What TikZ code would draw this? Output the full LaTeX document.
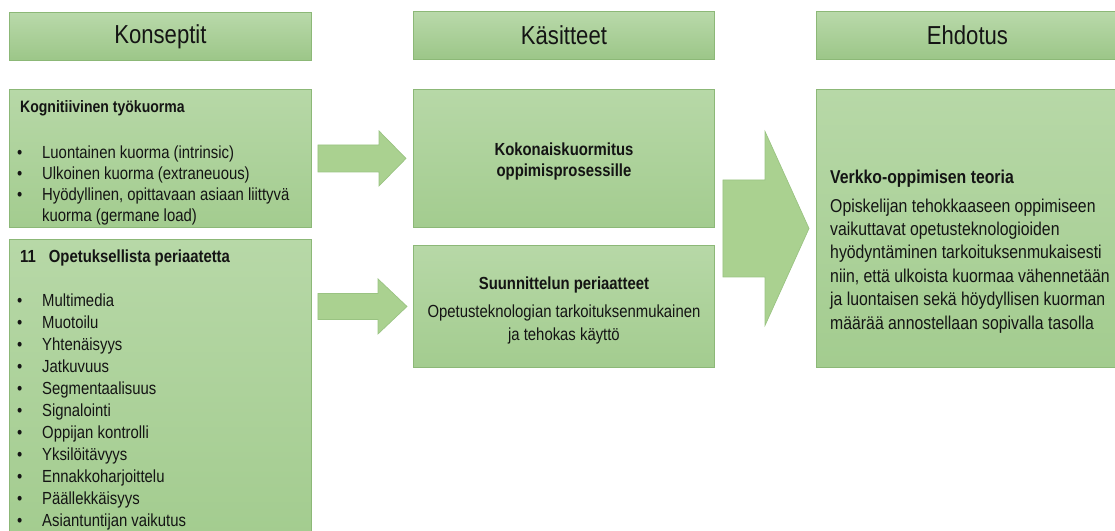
\documentclass[tikz,border=0pt]{standalone}
\usepackage{fontspec}
\setmainfont[FakeStretch=0.85]{Liberation Sans}
\usetikzlibrary{calc}
\definecolor{boxtop}{HTML}{B7D8A7}
\definecolor{boxbot}{HTML}{A3CC8F}
\definecolor{headtop}{HTML}{B9D9AA}
\definecolor{headbot}{HTML}{9CC688}
\definecolor{boxline}{HTML}{8CB877}
\definecolor{arrfill}{HTML}{AAD190}
\definecolor{arrline}{HTML}{9AC382}
\definecolor{ink}{HTML}{141414}
\newcommand\blt{\makebox[22pt][l]{\hspace{-3pt}\textbullet}}
\newcommand\blockarrow[5]{%
  \draw[barrow] let \p1=(#1), \p2=(#2) in
    (\x1,\y2+#3) -- (\x2-#5,\y2+#3) -- (\x2-#5,\y2+#4) -- (\x2,\y2)
    -- (\x2-#5,\y2-#4) -- (\x2-#5,\y2-#3) -- (\x1,\y2-#3) -- cycle;}
\begin{document}
\begin{tikzpicture}[x=1pt,y=-1pt,
  box/.style={draw=boxline, line width=0.9pt, top color=boxtop, bottom color=boxbot,
    anchor=north west, inner sep=0pt, text=ink},
  head/.style={box, top color=headtop, bottom color=headbot,
    font=\fontsize{26}{30}\selectfont},
  txt/.style={inner sep=0pt, text=ink, align=left, font=\fontsize{17.5}{21}\selectfont},
  barrow/.style={draw=arrline, line width=0.7pt, fill=arrfill}
]
\useasboundingbox (0,0) rectangle (1115,530);

% headers
\node[head, minimum width=302, minimum height=48] (h1) at (9,12) {Konseptit};
\node[head, minimum width=301, minimum height=48] (h2) at (413,11) {Käsitteet};
\node[head, minimum width=302, minimum height=48] (h3) at (816,11) {Ehdotus};

% boxes
\node[box, minimum width=302, minimum height=138] (k1) at (9,89) {};
\node[box, minimum width=302, minimum height=300] (k2) at (9,239) {};
\node[box, minimum width=301, minimum height=138] (m1) at (413,89) {};
\node[box, minimum width=301, minimum height=122] (m2) at (413,245) {};
\node[box, minimum width=302, minimum height=278] (r1) at (816,89) {};

% texts
\node[txt, align=center, font=\fontsize{17.5}{21}\selectfont\bfseries] (m1t)
  at ($(m1.center)+(0,3)$) {Kokonaiskuormitus\\oppimisprosessille};

\node[txt, anchor=north west] (k1t) at (20,100) {%
  {\fontsize{16.5}{21}\selectfont\bfseries Kognitiivinen työkuorma}\\[25pt]
  \blt Luontainen kuorma (intrinsic)\\
  \blt Ulkoinen kuorma (extraneuous)\\
  \blt Hyödyllinen, opittavaan asiaan liittyvä\\
  \hspace*{22pt}kuorma (germane load)};

\node[txt, anchor=north west, font=\fontsize{17.5}{22}\selectfont] (k2t) at (20,250) {%
  \textbf{11\hspace{13pt}Opetuksellista periaatetta}\\[22pt]
  \blt Multimedia\\
  \blt Muotoilu\\
  \blt Yhtenäisyys\\
  \blt Jatkuvuus\\
  \blt Segmentaalisuus\\
  \blt Signalointi\\
  \blt Oppijan kontrolli\\
  \blt Yksilöitävyys\\
  \blt Ennakkoharjoittelu\\
  \blt Päällekkäisyys\\
  \blt Asiantuntijan vaikutus};

\node[txt, anchor=north, align=center, font=\fontsize{17.5}{23}\selectfont] (m2t)
  at ($(m2.north)+(0,32)$) {%
  \textbf{Suunnittelun periaatteet}\\[5pt]
  Opetusteknologian tarkoituksenmukainen\\
  ja tehokas käyttö};

\node[txt, anchor=north west, font=\fontsize{18.6}{23.4}\selectfont] (r1t) at (830,170) {%
  \textbf{Verkko-oppimisen teoria}\\[5pt]
  Opiskelijan tehokkaaseen oppimiseen\\
  vaikuttavat opetusteknologioiden\\
  hyödyntäminen tarkoituksenmukaisesti\\
  niin, että ulkoista kuormaa vähennetään\\
  ja luontaisen sekä höydyllisen kuorman\\
  määrää annostellaan sopivalla tasolla};

% block arrows
\coordinate (a1s) at ($(k1.east)+(6,0)$);
\coordinate (a1t) at ($(m1.west)+(-7,0)$);
\blockarrow{a1s}{a1t}{13.5}{27.5}{27}
\coordinate (a2s) at ($(k2.east)+(6,0)$);
\coordinate (a2t) at ($(m2.west)+(-6,0)$);
\blockarrow{a2s}{a2t}{13}{27.5}{29}
\coordinate (a3s) at ($(m1.east)+(8,0)$);
\coordinate (a3t) at ($(r1.west)+(-7,0)$);
\blockarrow{a3s}{a3t}{48.5}{97}{44}
\end{tikzpicture}
\end{document}
